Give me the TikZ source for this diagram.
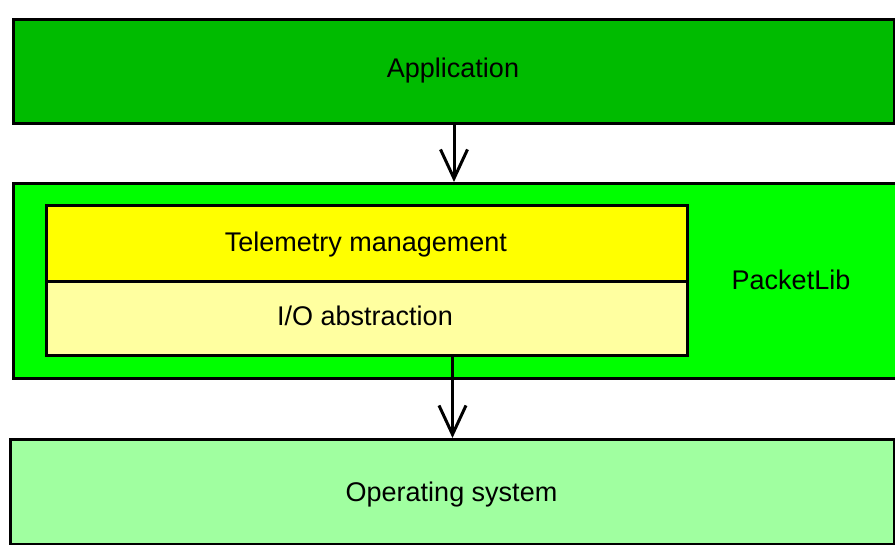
\documentclass[tikz,border=0pt]{standalone}
\usepackage{fontspec}
\setmainfont{Liberation Sans}
\usetikzlibrary{arrows.meta}
\definecolor{appgreen}{RGB}{0,187,0}
\definecolor{plgreen}{RGB}{0,255,0}
\definecolor{tmyellow}{RGB}{255,255,0}
\definecolor{ioyellow}{RGB}{255,255,160}
\definecolor{osgreen}{RGB}{160,255,160}
\begin{document}
\begin{tikzpicture}[x=1pt,y=-1pt,
  box/.style={draw=black,line width=3pt,inner sep=0pt,anchor=north west},
  lbl/.style={inner sep=0pt,anchor=base,font=\fontsize{27}{32}\selectfont},
  arr/.style={line width=3pt,-{Straight Barb[length=29pt,width=27pt,line width=3pt]}}]
\useasboundingbox (0,0) rectangle (895,545);
\begin{scope}
\clip (0,0) rectangle (895,545);
\node[box,fill=appgreen,minimum width=881pt,minimum height=104pt] (app) at (12,18) {};
\node[box,fill=plgreen,minimum width=890pt,minimum height=195pt] (pl) at (12,182) {};
\node[box,fill=osgreen,minimum width=884pt,minimum height=105pt] (os) at (9,438) {};
\node[box,fill=tmyellow,minimum width=641pt,minimum height=76pt] (tm) at (45,204) {};
\node[box,fill=ioyellow,minimum width=641pt,minimum height=74pt] (io) at (45,280) {};
\end{scope}
\node[lbl] (applbl) at (453,78) {Application};
\node[lbl] (tmlbl) at (366,252) {Telemetry management};
\node[lbl] (iolbl) at (365,326) {I/O abstraction};
\node[lbl] (pllbl) at (791,290) {PacketLib};
\node[lbl] (oslbl) at (451.5,501) {Operating system};
\draw[arr] (app.south) -- (app.south |- pl.north);
\draw[arr] (os.north |- io.south) -- (os.north);
\end{tikzpicture}
\end{document}
